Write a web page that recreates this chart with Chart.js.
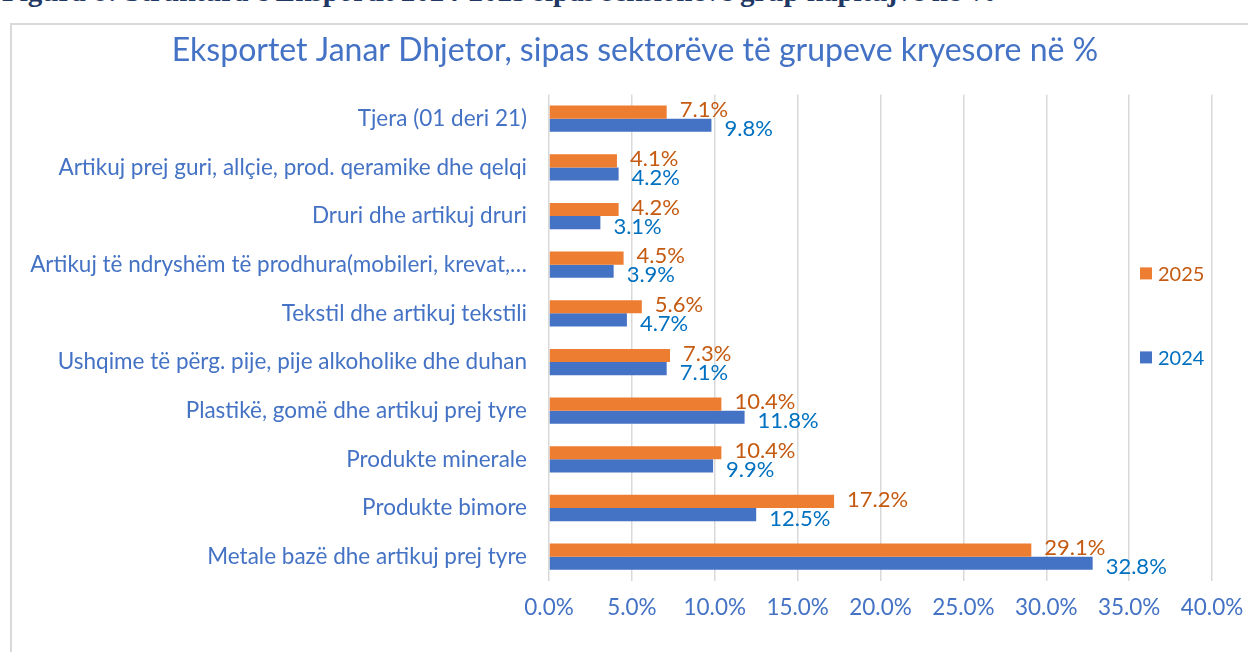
<!DOCTYPE html>
<html>
<head>
<meta charset="utf-8">
<script src="https://cdn.jsdelivr.net/npm/chart.js@4.4.1/dist/chart.umd.min.js"></script>
<style>
  body { margin: 0; background: #fff; width: 1248px; height: 652px; overflow: hidden; position: relative; }
  #caption { position: absolute; left: 2px; top: -23px; font: bold 29px/29px 'Liberation Serif', serif; color: #1F3864; white-space: nowrap; }
  #frame { position: absolute; left: 10px; top: 23px; width: 1300px; height: 700px; border-left: 2px solid #D9D9D9; border-top: 2px solid #D9D9D9; }
  #wrap { position: absolute; left: 0; top: 24px; width: 1248px; height: 628px; }
</style>
</head>
<body>
<div id="caption">Figura 8: Struktura e Eksportit 2024-2025 sipas seksioneve grup kapitujve në %</div>
<div id="frame"></div>
<div id="wrap"><canvas id="grafico"></canvas></div>
<script>
const categories = [
  'Tjera (01 deri 21)',
  'Artikuj prej guri, allçie, prod. qeramike dhe qelqi',
  'Druri dhe artikuj druri',
  'Artikuj të ndryshëm të prodhura(mobileri, krevat,…',
  'Tekstil dhe artikuj tekstili',
  'Ushqime të përg. pije, pije alkoholike dhe duhan',
  'Plastikë, gomë dhe artikuj prej tyre',
  'Produkte minerale',
  'Produkte bimore',
  'Metale bazë dhe artikuj prej tyre'
]
const valores2025 = [7.1, 4.1, 4.2, 4.5, 5.6, 7.3, 10.4, 10.4, 17.2, 29.1]
const valores2024 = [9.8, 4.2, 3.1, 3.9, 4.7, 7.1, 11.8, 9.9, 12.5, 32.8]
const xTicks = [0, 5, 10, 15, 20, 25, 30, 35, 40]

const fonte = "Lato, 'Open Sans', sans-serif"
const corTexto = ['#C55A11', '#0070C0']

// rótulos de valor ao lado das barras
const rotulos = {
  id: 'rotulos',
  afterDatasetsDraw(chart) {
    const ctx = chart.ctx
    ctx.save()
    ctx.font = '22px ' + fonte
    ctx.textAlign = 'left'
    ctx.textBaseline = 'middle'
    chart.data.datasets.forEach((ds, i) => {
      chart.getDatasetMeta(i).data.forEach((bar, j) => {
        ctx.fillStyle = corTexto[i]
        ctx.fillText(ds.data[j].toFixed(1) + '%', bar.x + 13, bar.y + (i === 0 ? -2 : 4))
      })
    })
    ctx.restore()
  }
}

// legenda dentro da área do gráfico, como no original
const legenda = {
  id: 'legenda',
  afterDraw(chart) {
    const ctx = chart.ctx
    const area = chart.chartArea
    const offs = [179, 263]
    ctx.save()
    ctx.font = '20px ' + fonte
    ctx.textBaseline = 'middle'
    chart.data.datasets.forEach((ds, i) => {
      const x = area.right - 72
      const y = area.top + offs[i]
      ctx.fillStyle = ds.backgroundColor
      ctx.fillRect(x, y - 6, 12, 12)
      ctx.fillStyle = corTexto[i]
      ctx.fillText(ds.label, x + 18, y + 1)
    })
    ctx.restore()
  }
}

new Chart(document.getElementById('grafico'), {
  type: 'bar',
  data: {
    labels: categories,
    datasets: [
      { label: '2025', data: valores2025, backgroundColor: '#ED7D31', barPercentage: 1, categoryPercentage: 0.54 },
      { label: '2024', data: valores2024, backgroundColor: '#4472C4', barPercentage: 1, categoryPercentage: 0.54 }
    ]
  },
  options: {
    indexAxis: 'y',
    responsive: true,
    maintainAspectRatio: false,
    animation: false,
    devicePixelRatio: 1,
    layout: { padding: { left: 22, right: 0, top: 0, bottom: 0 } },
    plugins: {
      legend: { display: false },
      tooltip: { enabled: false },
      title: {
        display: true,
        text: 'Eksportet Janar Dhjetor, sipas sektorëve të grupeve kryesore në %',
        color: '#4472C4',
        font: { family: fonte, size: 32, weight: 'normal' },
        padding: { top: 7, bottom: 25 }
      }
    },
    scales: {
      x: {
        min: 0,
        max: 40,
        afterBuildTicks: scale => { scale.ticks = xTicks.map(v => ({ value: v })) },
        afterFit: scale => {
          scale.height = 71
          scale.paddingLeft = 0
          scale.paddingRight = 36
        },
        border: { display: false },
        grid: { color: '#D9D9D9', lineWidth: 1.5, drawTicks: false },
        ticks: {
          padding: 13,
          color: '#4472C4',
          font: { family: fonte, size: 22.5 },
          callback: v => v.toFixed(1) + '%'
        }
      },
      y: {
        afterFit: scale => { scale.width = 527 },
        border: { display: false },
        grid: { display: false, drawTicks: false },
        ticks: {
          padding: 22,
          color: '#4472C4',
          font: { family: fonte, size: 22.5 },
          autoSkip: false
        }
      }
    }
  },
  plugins: [rotulos, legenda]
})
</script>
</body>
</html>
